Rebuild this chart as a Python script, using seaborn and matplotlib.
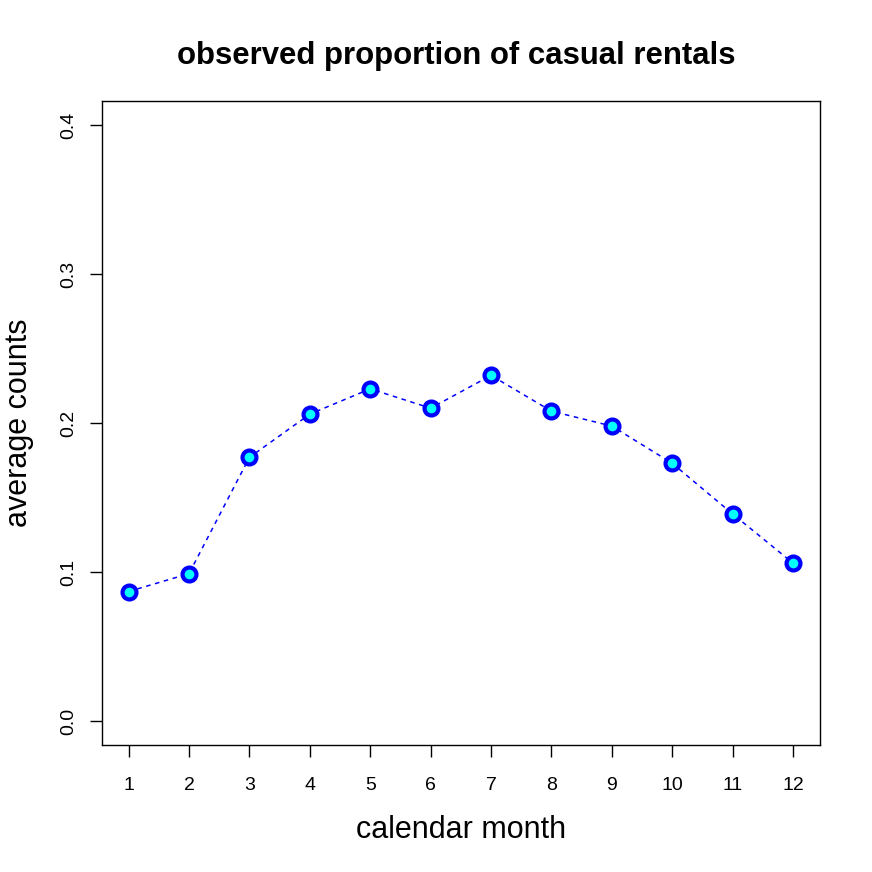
import numpy as np
import pandas as pd
import seaborn as sns
import matplotlib.pyplot as plt

sns.set_style("white", {"text.color": "black", "axes.labelcolor": "black",
                        "xtick.color": "black", "ytick.color": "black",
                        "xtick.bottom": True, "ytick.left": True,
                        "axes.edgecolor": "black"})
plt.rcParams["font.family"] = ["Liberation Sans", "DejaVu Sans"]

months = list(range(1, 13))
casual_prop = [0.087, 0.099, 0.177, 0.206, 0.223, 0.210,
               0.232, 0.208, 0.198, 0.173, 0.139, 0.106]
y_ticks = [0.0, 0.1, 0.2, 0.3, 0.4]

df = pd.DataFrame({"month": months, "prop": casual_prop})

fig = plt.figure(figsize=(8.72, 8.72), dpi=100)
ax = fig.add_axes([0.117, 0.1456, 0.823, 0.7384])

sns.lineplot(data=df, x="month", y="prop", ax=ax, color="blue",
             linestyle=(0, (3, 3)), linewidth=1.1, marker="o",
             markersize=10, markerfacecolor="cyan", markeredgecolor="blue",
             markeredgewidth=3)

ax.set_xlim(0.56, 12.44)
ax.set_ylim(-0.016, 0.416)
ax.set_xticks(months)
ax.set_yticks(y_ticks)
ax.set_yticklabels([f"{v:.1f}" for v in y_ticks], rotation=90, va="center")
ax.tick_params(axis="both", direction="out", length=8.5, width=1,
               labelsize=14, color="black")
ax.tick_params(axis="y", pad=9)
ax.tick_params(axis="x", pad=14.5)
for s in ax.spines.values():
    s.set_color("black")
    s.set_linewidth(1)

ax.set_xlabel("calendar month", fontsize=22, labelpad=15)
ax.set_ylabel("average counts", fontsize=22, labelpad=19)
ax.set_title("observed proportion of casual rentals", fontsize=22.4,
             fontweight="bold", pad=27, x=0.494)

fig.savefig("out.png", dpi=100)
